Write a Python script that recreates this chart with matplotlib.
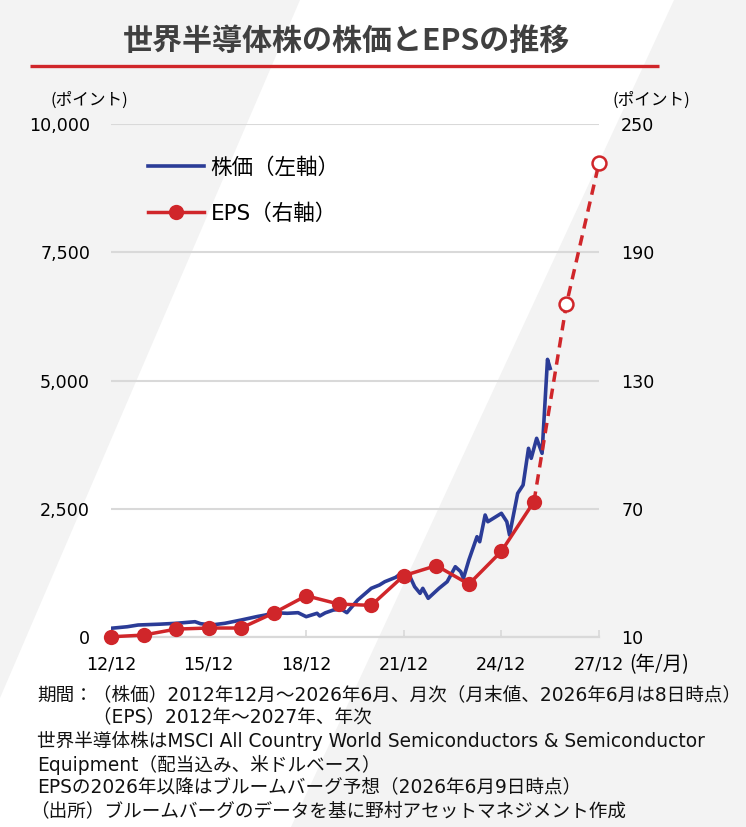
import matplotlib
matplotlib.use("Agg")
import matplotlib.pyplot as plt
from matplotlib.ticker import FuncFormatter

plt.rcParams['font.family'] = ['DejaVu Sans', 'Noto Sans CJK JP']

# ---- data ----
stock_dates = ['2012-12', '2013-06', '2013-10', '2014-06', '2014-12', '2015-07', '2015-09',
               '2016-01', '2016-06', '2016-12', '2017-06', '2017-09', '2017-12', '2018-05',
               '2018-09', '2018-12', '2019-04', '2019-05', '2019-07', '2019-10', '2020-01',
               '2020-03', '2020-07', '2020-12', '2021-03', '2021-05', '2021-09', '2021-12',
               '2022-02', '2022-04', '2022-06', '2022-07', '2022-09', '2023-01', '2023-04',
               '2023-07', '2023-09', '2023-10', '2023-12', '2024-03', '2024-04', '2024-06',
               '2024-07', '2024-12', '2025-02', '2025-03', '2025-06', '2025-08', '2025-10',
               '2025-11', '2026-01', '2026-03', '2026-05', '2026-06']
stock_values = [170, 200, 234, 250, 267, 298, 260,
                234, 267, 331, 400, 429, 474, 462,
                474, 396, 462, 410, 470, 526, 540,
                474, 721, 949, 1013, 1078, 1163, 1280,
                1208, 980, 851, 949, 754, 949, 1078,
                1370, 1273, 1144, 1501, 1955, 1857, 2378,
                2247, 2411, 2247, 1988, 2800, 2962, 3678,
                3483, 3873, 3580, 5412, 5237]

eps_years = [2012, 2013, 2014, 2015, 2016, 2017, 2018, 2019, 2020, 2021, 2022, 2023, 2024, 2025]
eps_values = [10.1, 10.9, 13.7, 14.2, 14.2, 21.2, 29.3, 25.4, 24.8, 38.7, 43.4, 34.7, 50.1, 73.3]
eps_fc_years = [2026, 2027]          # Bloomberg forecast
eps_fc_values = [165.8, 231.7]

xtick_labels = ['12/12', '15/12', '18/12', '21/12', '24/12', '27/12']
left_ticks = [0, 2500, 5000, 7500, 10000]
right_ticks = [10, 70, 130, 190, 250]

notes = [
    '期間：（株価）2012年12月～2026年6月、月次（月末値、2026年6月は8日時点）',
    '　　　（EPS）2012年～2027年、年次',
    '世界半導体株はMSCI All Country World Semiconductors & Semiconductor',
    'Equipment（配当込み、米ドルベース）',
    'EPSの2026年以降はブルームバーグ予想（2026年6月9日時点）',
    '（出所）ブルームバーグのデータを基に野村アセットマネジメント作成',
]

BLUE = '#2b3c97'
RED = '#d0262a'
GRID = '#d9d9d9'
W, H = 746, 827


def month_index(s):
    y, m = s.split('-')
    return (int(y) - 2012) * 12 + int(m) - 12


sx = [month_index(d) for d in stock_dates]
ex = [(y - 2012) * 12 for y in eps_years]
fx = [(y - 2012) * 12 for y in eps_fc_years]

fig = plt.figure(figsize=(W / 100, H / 100), dpi=100, facecolor='white')

# background: light grey with a white diagonal band
bg = fig.add_axes([0, 0, 1, 1], zorder=-10)
bg.set_xlim(0, W)
bg.set_ylim(H, 0)
bg.axis('off')
bg.fill([0, 300, 0], [0, 0, 698], color='#f3f3f3', lw=0)
bg.fill([674, W, W, 291], [0, 0, H, H], color='#f3f3f3', lw=0)
bg.plot([30, 659], [66, 66], color=RED, lw=2.4, solid_capstyle='butt')

fig.text(347 / W, 1 - 41 / H, '世界半導体株の株価とEPSの推移', ha='center', va='center',
         fontsize=21.6, fontweight='bold', color='#404040', family=['Noto Sans CJK JP'])

ax = fig.add_axes([111 / W, 1 - 637 / H, 488 / W, 513 / H])
ax.set_facecolor('none')
ax2 = ax.twinx()

ln_stock, = ax.plot(sx, stock_values, color=BLUE, lw=2.6, solid_joinstyle='round')

ln_eps, = ax2.plot(ex, eps_values, color=RED, lw=2.5, marker='o', ms=11,
                   markeredgewidth=0, clip_on=False, zorder=3)
ax2.plot([ex[-1]] + fx, [eps_values[-1]] + eps_fc_values, color=RED, lw=2.5,
         ls=(0, (3, 2)), clip_on=False, zorder=2)
ax2.plot(fx, eps_fc_values, ls='none', marker='o', ms=10, mfc='white', mec=RED,
         mew=1.8, clip_on=False, zorder=4)

ax.set_xlim(0, 180)
ax.set_ylim(0, 10000)
ax2.set_ylim(10, 250)
ax.set_xticks(range(0, 181, 36))
ax.set_xticklabels(xtick_labels)
ax.set_yticks(left_ticks)
ax.yaxis.set_major_formatter(FuncFormatter(lambda v, p: f'{int(v):,}'))
ax2.set_yticks(right_ticks)

ax.grid(axis='y', color=GRID, lw=1.5)
ax.set_axisbelow(True)
for a in (ax, ax2):
    for s in ('top', 'left', 'right'):
        a.spines[s].set_visible(False)
    a.spines['bottom'].set_color(GRID)
    a.spines['bottom'].set_linewidth(1.5)
ax.tick_params(axis='x', direction='in', length=5, width=1.2, color=GRID,
               labelsize=12.6, pad=13)
ax.tick_params(axis='y', length=0, labelsize=12.6, pad=15)
ax2.tick_params(axis='y', length=0, labelsize=12.6, pad=16)

fig.text(629 / W, 1 - 665 / H, '(年/月)', ha='left', va='center', fontsize=14,
         family=['Noto Sans CJK JP'])
fig.text(50 / W, 1 - 100 / H, '(ポイント)', ha='left', va='center', fontsize=12,
         family=['Noto Sans CJK JP'])
fig.text(612 / W, 1 - 100 / H, '(ポイント)', ha='left', va='center', fontsize=12,
         family=['Noto Sans CJK JP'])

ax.legend([ln_stock, ln_eps], ['株価（左軸）', 'EPS（右軸）'], loc='upper left',
          bbox_to_anchor=(148 / W, 1 - 157 / H), bbox_transform=fig.transFigure,
          frameon=False, handlelength=2.6, handletextpad=0.3,
          labelspacing=1.2, borderpad=0, borderaxespad=0,
          prop={'family': ['DejaVu Sans', 'Noto Sans CJK JP'], 'size': 15.5})

for i, line in enumerate(notes):
    x0 = 30 if line.startswith('（出所') else 37
    fig.text(x0 / W, 1 - (695 + i * 23.2) / H, line, ha='left', va='center',
             fontsize=13.4, color='#111111')

fig.savefig('out.png', dpi=100)
